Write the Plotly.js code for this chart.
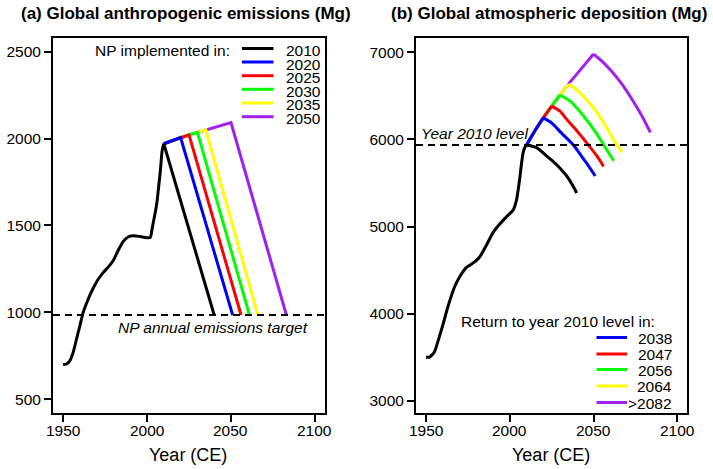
<!DOCTYPE html>
<html>
<head>
<meta charset="utf-8">
<script src="https://cdn.plot.ly/plotly-3.0.1.min.js"></script>
<style>html,body{margin:0;padding:0;background:#fff;}#chart{width:713px;height:469px;}</style>
</head>
<body>
<div id="chart"></div>
<script>
// ---------- Panel (a): global anthropogenic emissions (Mg) ----------
var emisHistYears = [1950, 1952, 1954, 1956, 1958, 1960, 1962, 1965, 1968, 1971, 1974, 1977, 1980, 1983, 1986, 1989, 1992, 1996, 2000, 2002, 2003, 2004, 2005, 2006, 2007, 2008, 2009, 2010];
var emisHist      = [700, 703, 721, 770, 846, 923, 1000, 1077, 1140, 1192, 1230, 1262, 1300, 1360, 1410, 1435, 1441, 1436, 1430, 1432, 1480, 1530, 1580, 1640, 1730, 1820, 1930, 1970];
var emis2010Years = [2010, 2040];
var emis2010      = [1970, 985];
var emis2020Years = [2010, 2020, 2051];
var emis2020      = [1970, 2006, 985];
var emis2025Years = [2010, 2020, 2025, 2056];
var emis2025      = [1970, 2006, 2021, 985];
var emis2030Years = [2010, 2020, 2025, 2030, 2061];
var emis2030      = [1970, 2006, 2021, 2035, 985];
var emis2035Years = [2010, 2020, 2025, 2030, 2035, 2066];
var emis2035      = [1970, 2006, 2021, 2035, 2050, 985];
var emis2050Years = [2010, 2020, 2025, 2030, 2035, 2050, 2083];
var emis2050      = [1970, 2006, 2021, 2035, 2050, 2092, 985];
var emisTarget = 985;
var emisLegendTitle = 'NP implemented in:';
var emisLegendLabels = ['2010', '2020', '2025', '2030', '2035', '2050'];

// ---------- Panel (b): global atmospheric deposition (Mg) ----------
var depHistYears = [1950, 1952, 1955, 1957, 1960, 1963, 1967, 1970, 1974, 1979, 1982, 1986, 1990, 1994, 1998, 2002, 2004, 2005, 2006, 2007, 2008, 2009, 2010];
var depHist      = [3500, 3500, 3560, 3675, 3866, 4076, 4305, 4420, 4528, 4593, 4650, 4784, 4930, 5028, 5111, 5188, 5303, 5420, 5560, 5724, 5850, 5910, 5935];
var depRiseYears = [2010, 2015, 2020, 2025, 2030, 2035, 2040, 2045, 2050];
var depRise      = [5935, 6100, 6248, 6383, 6510, 6635, 6750, 6865, 6980];
var dep2010Years = [2010, 2016, 2022, 2026, 2030, 2034, 2037, 2040];
var dep2010      = [5935, 5905, 5810, 5745, 5670, 5580, 5490, 5385];
var dep2038Years = [2020, 2025, 2030, 2035, 2038, 2042, 2046, 2051];
var dep2038      = [6248, 6190, 6090, 5995, 5935, 5830, 5724, 5580];
var dep2047Years = [2025, 2030, 2034, 2040, 2047, 2052, 2056];
var dep2047      = [6383, 6325, 6230, 6100, 5935, 5810, 5690];
var dep2056Years = [2030, 2036, 2042, 2048, 2052, 2056, 2062];
var dep2056      = [6510, 6440, 6318, 6170, 6060, 5940, 5755];
var dep2064Years = [2035, 2040, 2046, 2052, 2058, 2064, 2067];
var dep2064      = [6635, 6570, 6452, 6310, 6130, 5935, 5855];
var dep2082Years = [2050, 2055, 2060, 2066, 2072, 2078, 2084];
var dep2082      = [6980, 6900, 6800, 6660, 6490, 6300, 6080];
var depLevel2010 = 5935;
var depLegendTitle = 'Return to year 2010 level in:';
var depLegendLabels = ['2038', '2047', '2056', '2064', '>2082'];

// ---------- shared ----------
var yearTicks = [1950, 2000, 2050, 2100];
var emisTicks = [500, 1000, 1500, 2000, 2500];
var depTicks = [3000, 4000, 5000, 6000, 7000];
var panelTitles = ['(a) Global anthropogenic emissions (Mg)', '(b) Global atmospheric deposition (Mg)'];
var xTitle = 'Year (CE)';
var emisNote = 'NP annual emissions target';
var depNote = 'Year 2010 level';

var W = 713, H = 469;
var FONT = 'Liberation Sans, Arial, Helvetica, sans-serif';
var colors = ['black', '#0000FF', '#FF0000', '#00FF00', '#FFFF00', '#A020F0'];
function px(x) { return x / W; }
function py(y) { return 1 - y / H; }

function line(x, y, color, xa, ya, smooth) {
  var ln = {color: color, width: 3};
  if (smooth) { ln.shape = 'spline'; ln.smoothing = 0.6; }
  return {type: 'scatter', mode: 'lines', x: x, y: y, xaxis: xa, yaxis: ya,
    line: ln, hoverinfo: 'skip', showlegend: false};
}
function riseTo(peakYear) {
  var xs = [], ys = [];
  depRiseYears.forEach(function (yr, i) { if (yr <= peakYear) { xs.push(yr); ys.push(depRise[i]); } });
  return [xs, ys];
}

var traces = [
  // panel a, drawn so earlier scenarios end up on top
  line(emis2050Years, emis2050, colors[5], 'x', 'y'),
  line(emis2035Years, emis2035, colors[4], 'x', 'y'),
  line(emis2030Years, emis2030, colors[3], 'x', 'y'),
  line(emis2025Years, emis2025, colors[2], 'x', 'y'),
  line(emis2020Years, emis2020, colors[1], 'x', 'y'),
  line(emisHistYears, emisHist, colors[0], 'x', 'y', true),
  line(emis2010Years, emis2010, colors[0], 'x', 'y')
];
// panel b
var depScen = [
  [dep2082Years, dep2082, colors[5]],
  [dep2064Years, dep2064, colors[4]],
  [dep2056Years, dep2056, colors[3]],
  [dep2047Years, dep2047, colors[2]],
  [dep2038Years, dep2038, colors[1]]
];
depScen.forEach(function (s) {
  var r = riseTo(s[0][0]);
  traces.push(line(r[0], r[1], s[2], 'x2', 'y2', true));
  traces.push(line(s[0], s[1], s[2], 'x2', 'y2', true));
});
traces.push(line(depHistYears, depHist, colors[0], 'x2', 'y2', true));
traces.push(line(dep2010Years, dep2010, colors[0], 'x2', 'y2', true));

var yDom = [py(412.7), py(37.7)];
function xaxisDef(dom, anchor) {
  return {domain: dom, anchor: anchor, range: [1944, 2106], tickvals: yearTicks,
    showticklabels: false, ticks: 'outside', ticklen: 7, tickwidth: 2,
    tickcolor: 'black', showline: true, linewidth: 2, linecolor: 'black', mirror: true,
    showgrid: false, zeroline: false};
}
function yaxisDef(range, ticks, anchor) {
  return {domain: yDom, anchor: anchor, range: range, tickvals: ticks,
    ticktext: ticks.map(String), ticks: 'outside', ticklen: 7, tickwidth: 2,
    tickcolor: 'black', showline: true, linewidth: 2, linecolor: 'black', mirror: true,
    showgrid: false, zeroline: false, tickfont: {family: FONT, size: 15.5, color: 'black'}};
}

var shapes = [
  {type: 'line', xref: 'x domain', yref: 'y', x0: 0, x1: 1, y0: emisTarget, y1: emisTarget,
   line: {color: 'black', width: 2, dash: '7px,5px'}, layer: 'above'},
  {type: 'line', xref: 'x2 domain', yref: 'y2', x0: 0, x1: 1, y0: depLevel2010, y1: depLevel2010,
   line: {color: 'black', width: 2, dash: '7px,5px'}, layer: 'above'}
];
function txt(text, x, y, xanchor, size, xref) {
  return {text: text, xref: xref || 'paper', yref: 'paper', x: x, y: y, xanchor: xanchor,
    yanchor: 'middle', showarrow: false, font: {family: FONT, size: size, color: 'black'}};
}
var annotations = [
  txt('<b>' + panelTitles[0] + '</b>', px(186), py(13.5), 'center', 17),
  txt('<b>' + panelTitles[1] + '</b>', px(549), py(13.5), 'center', 17),
  txt('<i>' + emisNote + '</i>', px(310), py(327), 'right', 15.5),
  txt('<i>' + depNote + '</i>', px(419), py(133.5), 'left', 15.5),
  txt(emisLegendTitle, px(232), py(50.5), 'right', 15.5),
  txt(depLegendTitle, px(657), py(321), 'right', 15.5),
  txt(xTitle, px(188), py(455), 'center', 18),
  txt(xTitle, px(551), py(455), 'center', 18)
];
yearTicks.forEach(function (t) {
  annotations.push(txt(String(t), t, py(430), 'center', 15.5, 'x'));
  annotations.push(txt(String(t), t, py(430), 'center', 15.5, 'x2'));
});

var emisRows = [48.5, 62, 75.7, 89.3, 103, 116.7];
emisLegendLabels.forEach(function (lab, i) {
  shapes.push({type: 'line', xref: 'paper', yref: 'paper', x0: px(242), x1: px(273.5),
    y0: py(emisRows[i]), y1: py(emisRows[i]), line: {color: colors[i], width: 3}});
  annotations.push(txt(lab, px(284), py(emisRows[i] + 2), 'left', 15.5));
});
var depRows = [337.5, 354, 369.5, 386, 402.5];
depLegendLabels.forEach(function (lab, i) {
  shapes.push({type: 'line', xref: 'paper', yref: 'paper', x0: px(596.5), x1: px(627),
    y0: py(depRows[i]), y1: py(depRows[i]), line: {color: colors[i + 1], width: 3}});
  annotations.push(txt(lab, px(673.5), py(depRows[i] + 0.5), 'right', 15.5));
});

var layout = {
  width: W, height: H, margin: {l: 0, r: 0, t: 0, b: 0},
  paper_bgcolor: 'white', plot_bgcolor: 'white', showlegend: false,
  font: {family: FONT, size: 15.5, color: 'black'},
  xaxis: xaxisDef([px(53), px(325)], 'y'),
  yaxis: yaxisDef([423, 2580], emisTicks, 'x'),
  xaxis2: xaxisDef([px(416), px(687.3)], 'y2'),
  yaxis2: yaxisDef([2862, 7168], depTicks, 'x2'),
  shapes: shapes, annotations: annotations
};

Plotly.newPlot('chart', traces, layout, {displayModeBar: false, staticPlot: true});
</script>
</body>
</html>
